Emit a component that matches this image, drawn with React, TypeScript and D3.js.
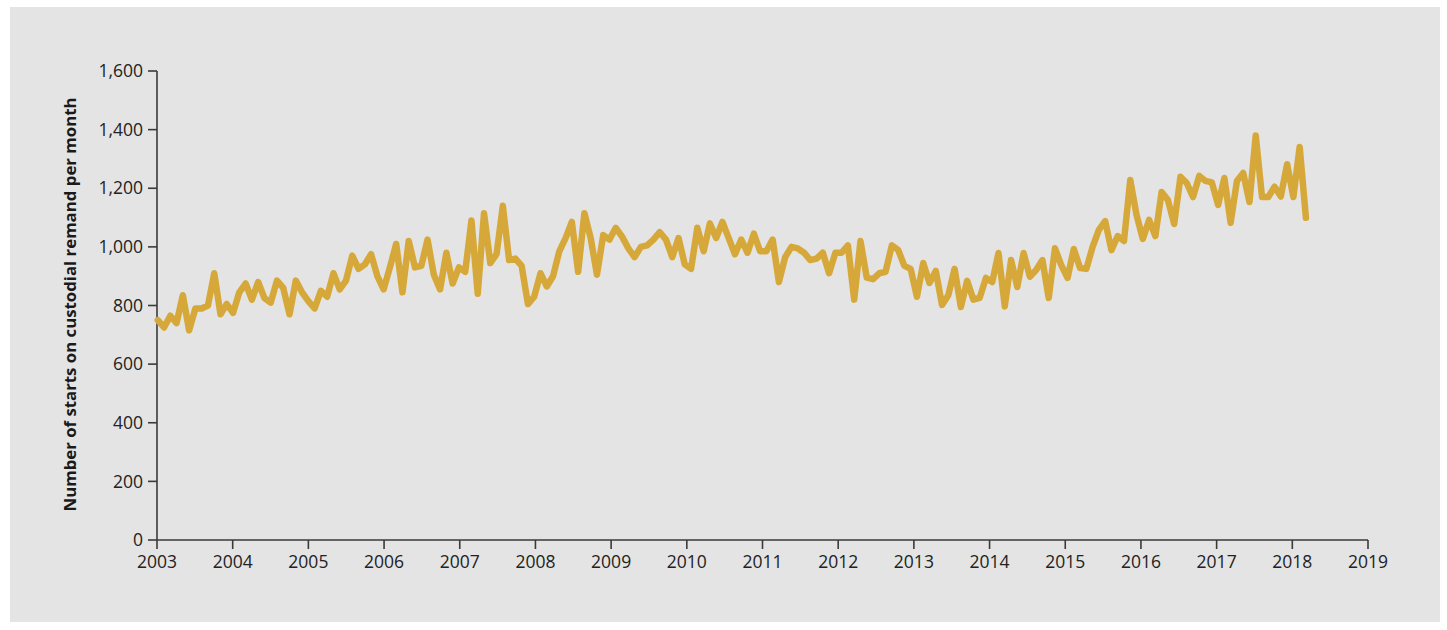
import React from "react";
import * as d3 from "d3";

// Monthly starts on custodial remand, Jan 2003 onwards
const remandStarts: number[] = [
  750, 725, 765, 740, 835, 715, 790, 790, 800, 910, 770, 805,
  775, 845, 875, 820, 880, 825, 810, 885, 860, 770, 885, 845,
  815, 790, 850, 830, 910, 855, 885, 970, 925, 940, 975, 900,
  855, 930, 1010, 845, 1020, 930, 935, 1025, 905, 855, 980, 875,
  930, 915, 1090, 840, 1115, 945, 975, 1140, 955, 960, 935, 805,
  830, 910, 865, 900, 985, 1030, 1085, 915, 1115, 1030, 905, 1040,
  1025, 1065, 1035, 995, 965, 1000, 1005, 1025, 1050, 1025, 965, 1030,
  940, 925, 1065, 985, 1080, 1030, 1085, 1030, 975, 1025, 980, 1045,
  985, 985, 1025, 880, 965, 1000, 995, 980, 955, 960, 980, 910,
  980, 980, 1005, 820, 1020, 895, 890, 910, 915, 1005, 990, 935,
  925, 830, 945, 877, 918, 802, 835, 925, 795, 884, 820, 826,
  894, 880, 979, 797, 955, 863, 979, 898, 921, 955, 826, 995,
  938, 894, 993, 928, 925, 1000, 1058, 1088, 989, 1037, 1020, 1228,
  1109, 1027, 1092, 1037, 1187, 1160, 1078, 1239, 1218, 1170, 1242, 1225,
  1220, 1143, 1235, 1082, 1225, 1252, 1153, 1380, 1170, 1170, 1205, 1172,
  1282, 1170, 1341, 1099,
];

const yearTicks: number[] = d3.range(2003, 2020);
const valueTicks: number[] = [0, 200, 400, 600, 800, 1000, 1200, 1400, 1600];
const yearDomain: [number, number] = [2003, 2019];
const valueDomain: [number, number] = [0, 1600];
// decimal-year extent of the series as drawn
const seriesExtent: [number, number] = [2003.01, 2018.18];
const yTitle = "Number of starts on custodial remand per month";

const FONT = "'Open Sans', 'DejaVu Sans', sans-serif";

export default function App() {
  const W = 1447;
  const H = 630;
  const left = 157, right = 1368, top = 71, bottom = 540;

  const x = d3.scaleLinear().domain(yearDomain).range([left, right]);
  const y = d3.scaleLinear().domain(valueDomain).range([bottom, top]);
  const t = d3
    .scaleLinear()
    .domain([0, remandStarts.length - 1])
    .range(seriesExtent);

  const line = d3
    .line<number>()
    .x((_, i) => x(t(i)))
    .y((d) => y(d));

  const axisColor = "#3a3a3a";
  const fmt = d3.format(",");

  return (
    <svg
      width={W}
      height={H}
      style={{ position: "absolute", left: 0, top: 0, display: "block" }}
    >
      <rect x={0} y={0} width={W} height={H} fill="#ffffff" />
      <rect x={10} y={7} width={1430} height={615} fill="#e4e4e4" />

      {/* y axis */}
      <line x1={left} x2={left} y1={y(1600)} y2={y(0)} stroke={axisColor} strokeWidth={1.6} />
      {valueTicks.map((v) => (
        <g key={v}>
          <line x1={left - 9} x2={left} y1={y(v)} y2={y(v)} stroke={axisColor} strokeWidth={1.6} />
          <text
            x={left - 14}
            y={y(v)}
            dy="0.35em"
            textAnchor="end"
            fontFamily={FONT}
            fontSize={17.5}
            fill="#222"
          >
            {fmt(v)}
          </text>
        </g>
      ))}

      {/* x axis */}
      <line x1={left} x2={right} y1={bottom} y2={bottom} stroke={axisColor} strokeWidth={1.6} />
      {yearTicks.map((yr) => (
        <g key={yr}>
          <line x1={x(yr)} x2={x(yr)} y1={bottom} y2={bottom + 9} stroke={axisColor} strokeWidth={1.6} />
          <text
            x={x(yr)}
            y={bottom + 28}
            textAnchor="middle"
            fontFamily={FONT}
            fontSize={17.5}
            fill="#222"
          >
            {yr}
          </text>
        </g>
      ))}

      {/* y title */}
      <text
        transform={`translate(76, ${(top + bottom) / 2 - 1}) rotate(-90)`}
        textAnchor="middle"
        fontFamily={FONT}
        fontWeight={700}
        fontSize={16.8}
        fill="#1a1a1a"
      >
        {yTitle}
      </text>

      {/* series */}
      <path
        d={line(remandStarts) ?? ""}
        fill="none"
        stroke="#d6a83a"
        strokeWidth={6.5}
        strokeLinejoin="round"
        strokeLinecap="round"
      />
    </svg>
  );
}
